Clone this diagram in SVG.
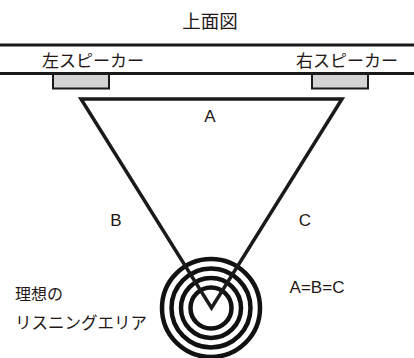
<svg xmlns="http://www.w3.org/2000/svg" width="414" height="358" viewBox="0 0 414 358">
<style>
.jp{font-family:"Noto Sans CJK JP","Noto Sans",sans-serif;fill:#231815}
.lt{font-family:"Liberation Sans",Arial,sans-serif;fill:#231815;font-size:17px;text-anchor:middle}
.ln{stroke:#1a1a1a;fill:none}
.spk{fill:#d3d3d3;stroke:#1a1a1a;stroke-width:2}
.ring{fill:none;stroke:#111;stroke-width:4.5}
</style>
<rect width="414" height="358" fill="#fff"/>
<g id="title"><text class="jp" x="210" y="28" font-size="18.5" text-anchor="middle">上面図</text></g>
<g id="wall">
<line class="ln" x1="0" y1="45" x2="414" y2="45" stroke-width="3"/>
<line class="ln" x1="0" y1="73.5" x2="414" y2="73.5" stroke-width="3"/>
</g>
<g id="left-speaker">
<rect class="spk" x="53" y="74" width="56" height="14.5"/>
<text class="jp" x="42" y="67" font-size="17">左スピーカー</text>
</g>
<g id="right-speaker">
<rect class="spk" x="312" y="74" width="56" height="14.5"/>
<text class="jp" x="296" y="67" font-size="17">右スピーカー</text>
</g>
<g id="listening-area">
<circle class="ring" cx="211" cy="308" r="49"/>
<circle class="ring" cx="211" cy="308" r="39.5"/>
<circle class="ring" cx="211" cy="308" r="30"/>
<circle class="ring" cx="211" cy="308" r="20.5"/>
<text class="jp" x="15" y="300" font-size="16">理想の</text>
<text class="jp" x="15" y="329" font-size="16.5">リスニングエリア</text>
</g>
<g id="connectors">
<path class="ln" d="M81,99 L342,99 L211.5,308 Z" stroke-width="3.5" stroke-linejoin="miter"/>
</g>
<g id="labels">
<text class="lt" x="210" y="122">A</text>
<text class="lt" x="116" y="226">B</text>
<text class="lt" x="305" y="226">C</text>
<text class="lt" x="317" y="293" font-size="18">A=B=C</text>
</g>
</svg>
